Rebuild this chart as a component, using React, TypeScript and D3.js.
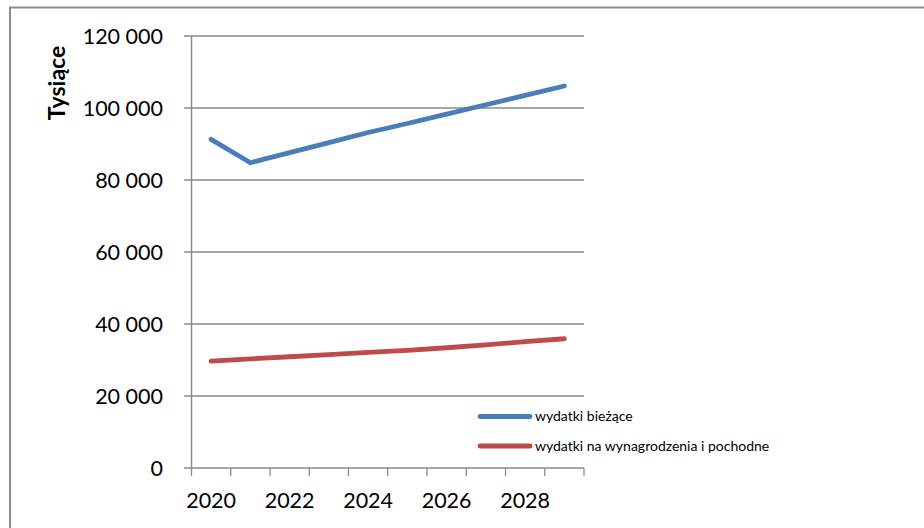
import { useEffect, useRef } from "react";
import * as d3 from "d3";

const years = [2020, 2021, 2022, 2023, 2024, 2025, 2026, 2027, 2028, 2029];
const currentSpending = [91300, 84800, 87600, 90400, 93200, 95700, 98300, 100900, 103500, 106100];
const salarySpending = [29700, 30300, 30900, 31500, 32100, 32700, 33400, 34200, 35100, 35900];
const yTicks = [0, 20000, 40000, 60000, 80000, 100000, 120000];
const seriesNames = ["wydatki bieżące", "wydatki na wynagrodzenia i pochodne"];
const seriesColors = ["#4A7EBB", "#BE4B48"];

const FONT = "Lato, 'Open Sans', sans-serif";

const App = () => {
  const svgRef = useRef<SVGSVGElement>(null);

  useEffect(() => {
    if (!svgRef.current) return;
    const svg = d3.select(svgRef.current);
    svg.selectAll("*").remove();

    const width = 924;
    const height = 528;
    const margin = { top: 36, left: 191.5, right: 584, bottom: 468 };

    // outer chart frame
    svg.append("rect")
      .attr("x", 10).attr("y", 7.5)
      .attr("width", width + 20).attr("height", height + 20)
      .attr("fill", "#fff")
      .attr("stroke", "#8c8c8c")
      .attr("stroke-width", 2);

    const x = d3.scaleBand<number>()
      .domain(years)
      .range([margin.left, margin.right])
      .padding(0);

    const y = d3.scaleLinear()
      .domain([0, 120000])
      .range([margin.bottom, margin.top]);

    const fmt = (v: number) => d3.format(",")(v).replace(/,/g, " ");

    // gridlines + y ticks
    svg.append("g")
      .selectAll("line")
      .data(yTicks)
      .join("line")
      .attr("x1", margin.left - 7.5)
      .attr("x2", margin.right)
      .attr("y1", d => y(d))
      .attr("y2", d => y(d))
      .attr("stroke", "#8a8a8a")
      .attr("stroke-width", 1.3);

    svg.append("g")
      .selectAll("text")
      .data(yTicks)
      .join("text")
      .attr("x", 163)
      .attr("y", d => y(d))
      .attr("dy", "0.36em")
      .attr("text-anchor", "end")
      .attr("font-family", FONT)
      .attr("font-size", 21.5)
      .attr("fill", "#000")
      .text(d => fmt(d));

    // y axis line
    svg.append("line")
      .attr("x1", margin.left).attr("x2", margin.left)
      .attr("y1", margin.top).attr("y2", margin.bottom)
      .attr("stroke", "#8a8a8a")
      .attr("stroke-width", 1.5);

    // x axis ticks at category boundaries
    const boundaries = [...years.map(d => x(d) as number), margin.right];
    svg.append("g")
      .selectAll("line")
      .data(boundaries)
      .join("line")
      .attr("x1", d => d).attr("x2", d => d)
      .attr("y1", margin.bottom).attr("y2", margin.bottom + 8)
      .attr("stroke", "#8a8a8a")
      .attr("stroke-width", 1.3);

    svg.append("g")
      .selectAll("text")
      .data(years.filter((_, i) => i % 2 === 0))
      .join("text")
      .attr("x", d => (x(d) as number) + x.bandwidth() / 2)
      .attr("y", 508)
      .attr("text-anchor", "middle")
      .attr("font-family", FONT)
      .attr("font-size", 21.5)
      .attr("fill", "#000")
      .text(d => String(d));

    // axis title
    svg.append("text")
      .attr("transform", "translate(65,83) rotate(-90)")
      .attr("text-anchor", "middle")
      .attr("font-family", FONT)
      .attr("font-size", 23)
      .attr("font-weight", "bold")
      .attr("fill", "#000")
      .text("Tysiące");

    // lines
    const line = d3.line<number>()
      .x((_, i) => (x(years[i]) as number) + x.bandwidth() / 2)
      .y(d => y(d));

    [currentSpending, salarySpending].forEach((values, i) => {
      svg.append("path")
        .datum(values)
        .attr("d", line)
        .attr("fill", "none")
        .attr("stroke", seriesColors[i])
        .attr("stroke-width", 4.8)
        .attr("stroke-linecap", "round")
        .attr("stroke-linejoin", "round");
    });

    // legend
    const legend = svg.append("g");
    seriesNames.forEach((name, i) => {
      const ly = 416.5 + i * 29.5;
      legend.append("line")
        .attr("x1", 480).attr("x2", 530)
        .attr("y1", ly).attr("y2", ly)
        .attr("stroke", seriesColors[i])
        .attr("stroke-width", 4.8)
        .attr("stroke-linecap", "round");
      legend.append("text")
        .attr("x", 535)
        .attr("y", ly)
        .attr("dy", "0.35em")
        .attr("font-family", FONT)
        .attr("font-size", 14)
        .attr("fill", "#000")
        .text(name);
    });
  }, []);

  return (
    <svg
      ref={svgRef}
      width={924}
      height={528}
      style={{ position: "absolute", left: 0, top: 0, background: "#fff" }}
    />
  );
};

export default App;
